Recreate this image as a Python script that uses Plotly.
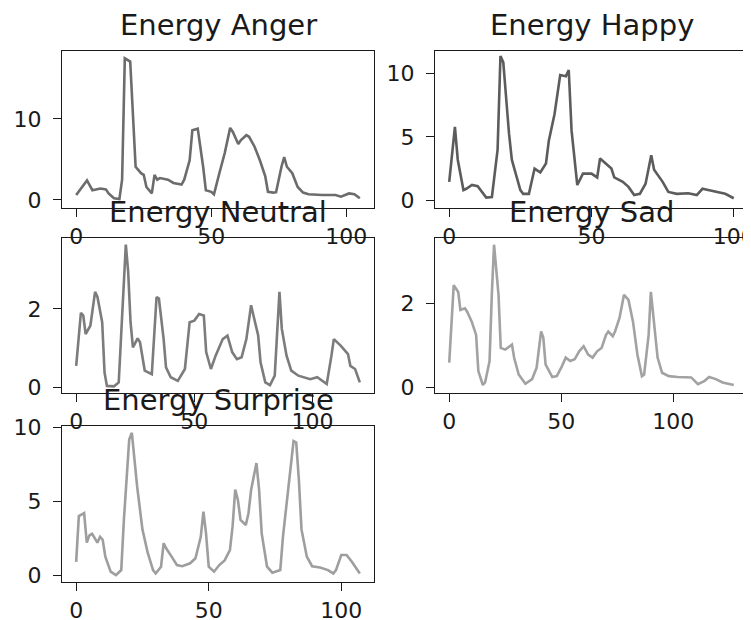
import plotly.graph_objects as go

# ---------------- data ----------------
titles = ["Energy Anger", "Energy Happy", "Energy Neutral", "Energy Sad", "Energy Surprise"]

anger_x = [0, 4, 6, 9, 11, 12, 14, 16, 17, 18, 20, 21, 22, 24, 25, 26, 28, 29, 30, 31,
           34, 36, 39, 40, 42, 43, 45, 47, 48, 50, 51, 53, 55, 57, 58, 60, 61, 63, 64, 66,
           68, 70, 71, 73, 74, 76, 77, 78, 80, 82, 84, 86, 91, 96, 98, 101, 103, 105]
anger_y = [0.6, 2.4, 1.2, 1.4, 1.3, 0.8, 0.2, 0.1, 2.5, 17.5, 17.1, 10.3, 4.1, 3.3, 3.1, 1.6, 0.8, 3.1, 2.5, 2.7,
           2.5, 2.1, 1.9, 2.5, 4.9, 8.6, 8.8, 4.1, 1.2, 1.0, 0.7, 3.3, 5.8, 8.9, 8.4, 6.9, 7.4, 8.0, 7.8, 6.6,
           4.9, 2.9, 1.0, 0.9, 0.95, 4.1, 5.3, 4.1, 3.3, 1.6, 0.9, 0.7, 0.6, 0.6, 0.4, 0.8, 0.7, 0.2]

happy_x = [0, 2, 3, 5, 6, 8, 10, 12, 13, 15, 17, 18, 19, 21, 22, 23, 25, 26, 28, 30,
           32, 34, 35, 37, 39, 41, 42, 43, 45, 47, 50, 52, 53, 55, 57, 58, 61, 63, 65, 67,
           69, 71, 72, 75, 77, 80, 84, 87, 89, 91, 94, 97, 100]
happy_y = [1.45, 5.8, 3.2, 0.8, 0.9, 1.2, 1.1, 0.5, 0.2, 0.25, 4.0, 11.4, 10.9, 5.3, 3.2, 2.4, 0.8, 0.5, 0.5, 2.5,
           2.2, 2.9, 4.7, 6.8, 9.9, 9.8, 10.3, 5.5, 1.2, 2.1, 2.1, 1.8, 3.3, 2.9, 2.5, 1.8, 1.45, 1.05, 0.4, 0.5,
           1.3, 3.55, 2.4, 1.45, 0.65, 0.5, 0.55, 0.4, 0.9, 0.8, 0.65, 0.5, 0.15]

neutral_x = [0, 2, 3, 4, 6, 8, 9, 11, 12, 13, 16, 18, 19, 21, 22, 23, 24, 26, 27, 28,
             29, 32, 34, 35, 37, 38, 40, 43, 46, 48, 50, 52, 54, 55, 57, 59, 62, 64, 66, 68,
             70, 72, 74, 75, 77, 78, 80, 82, 84, 86, 87, 89, 91, 94, 96, 99, 102, 104, 106, 108,
             109, 112, 115, 116, 118, 120]
neutral_y = [0.55, 1.9, 1.83, 1.36, 1.57, 2.43, 2.3, 1.66, 0.38, 0.04, 0.03, 0.13, 1.3, 3.63, 2.94, 1.66, 1.02, 1.25, 1.15, 0.81,
             0.43, 0.34, 2.3, 2.26, 1.23, 0.51, 0.26, 0.17, 0.47, 1.66, 1.7, 1.87, 1.83, 0.9, 0.47, 0.81, 1.23, 1.32, 0.9, 0.72,
             0.77, 1.23, 2.09, 1.83, 1.32, 0.64, 0.13, 0.06, 0.3, 2.43, 1.49, 0.81, 0.43, 0.3, 0.26, 0.21, 0.26, 0.17, 0.09, 0.81,
             1.23, 1.06, 0.85, 0.55, 0.47, 0.13]

sad_x = [0, 2, 4, 5, 7, 8, 10, 12, 13, 15, 16, 18, 19, 20, 22, 23, 25, 27, 28, 29,
         31, 34, 37, 39, 41, 42, 43, 46, 48, 50, 52, 54, 56, 58, 60, 62, 64, 66, 68, 70,
         71, 73, 74, 76, 78, 80, 82, 84, 86, 87, 89, 90, 92, 93, 95, 98, 102, 108, 111, 114,
         116, 119, 122, 127]
sad_y = [0.59, 2.43, 2.27, 1.84, 1.88, 1.8, 1.57, 1.25, 0.39, 0.06, 0.12, 0.63, 2.2, 3.39, 2.2, 0.94, 0.9, 0.98, 1.02, 0.7,
         0.31, 0.09, 0.2, 0.47, 1.33, 1.18, 0.55, 0.25, 0.27, 0.47, 0.71, 0.63, 0.67, 0.86, 0.98, 0.78, 0.71, 0.86, 0.94, 1.25,
         1.33, 1.22, 1.33, 1.65, 2.2, 2.08, 1.57, 0.78, 0.27, 0.31, 1.25, 2.27, 1.25, 0.71, 0.35, 0.27, 0.25, 0.24, 0.08, 0.16,
         0.25, 0.2, 0.12, 0.06]

surprise_x = [0, 1, 3, 4, 5, 6, 8, 9, 10, 11, 13, 15, 17, 18, 20, 21, 23, 25, 27, 29,
              30, 32, 33, 34, 36, 38, 40, 43, 45, 47, 48, 49, 50, 52, 54, 56, 58, 59, 60, 61,
              62, 64, 65, 66, 68, 69, 70, 72, 74, 77, 78, 80, 82, 83, 84, 85, 87, 89, 92, 95,
              97, 98, 100, 102, 104, 107]
surprise_y = [0.9, 4.0, 4.2, 2.2, 2.7, 2.8, 2.2, 2.6, 2.4, 1.25, 0.23, 0.0, 0.34, 3.75, 9.2, 9.66, 6.0, 3.1, 1.5, 0.34,
              0.11, 0.57, 2.16, 1.8, 1.25, 0.68, 0.6, 0.8, 1.14, 2.6, 4.3, 2.8, 0.57, 0.23, 0.68, 1.0, 1.7, 3.3, 5.8, 5.1,
              3.75, 3.4, 4.2, 5.8, 7.6, 5.8, 2.8, 0.57, 0.16, 0.34, 2.6, 5.8, 9.1, 9.0, 6.5, 3.1, 1.25, 0.6, 0.52, 0.34,
              0.11, 0.34, 1.36, 1.36, 0.9, 0.11]

x_ticks = [0, 50, 100]
y_ticks = [[0, 10], [0, 5, 10], [0, 2], [0, 2], [0, 5, 10]]

# ---------------- styling / layout ----------------
W, H = 751, 620
OFF = 8  # page body margin that shifts the figure inside the browser window
series = [(anger_x, anger_y), (happy_x, happy_y), (neutral_x, neutral_y),
          (sad_x, sad_y), (surprise_x, surprise_y)]
colors = ["#6c6c6c", "#5c5c5c", "#7c7c7c", "#a2a2a2", "#9e9e9e"]
# axes boxes in window pixels: (left, right, top, bottom)
boxes = [(62, 374, 51, 208), (435, 748, 51, 208),
         (62, 374, 238, 393), (435, 748, 238, 393),
         (62, 374, 426, 582)]
y_ranges = [[-1.0, 18.4], [-0.62, 11.8], [-0.14, 3.8], [-0.13, 3.55], [-0.47, 10.12]]

FONT = "DejaVu Sans"
fig = go.Figure()
annotations = []
for i, ((xs, ys), col, box, yr) in enumerate(zip(series, colors, boxes, y_ranges)):
    n = "" if i == 0 else str(i + 1)
    last = max(xs)
    fig.add_trace(go.Scatter(x=xs, y=ys, mode="lines",
                             line=dict(color=col, width=2.6),
                             xaxis="x" + n, yaxis="y" + n, showlegend=False,
                             hoverinfo="skip"))
    l, r, t, b = [v - OFF for v in box]
    axis_common = dict(showline=True, mirror=True, linecolor="#1a1a1a", linewidth=1.3,
                       ticks="outside", ticklen=8, tickwidth=1.3, tickcolor="#1a1a1a",
                       showgrid=False, zeroline=False, automargin=False,
                       tickfont=dict(family=FONT, size=22, color="#1a1a1a"))
    fig.layout["xaxis" + n] = dict(domain=[l / W, r / W],
                                   range=[-0.05 * last, 1.05 * last],
                                   tickmode="array", tickvals=x_ticks,
                                   anchor="y" + n, **axis_common)
    fig.layout["yaxis" + n] = dict(domain=[1 - b / H, 1 - t / H], range=yr,
                                   tickmode="array", tickvals=y_ticks[i],
                                   ticklabelstandoff=7,
                                   anchor="x" + n, **axis_common)
    annotations.append(dict(text=titles[i], xref="paper", yref="paper",
                            x=(l + r) / 2 / W, y=1 - (t - 7) / H,
                            xanchor="center", yanchor="bottom", showarrow=False,
                            font=dict(family=FONT, size=29, color="#1a1a1a")))

fig.update_layout(width=W, height=H, autosize=False,
                  margin=dict(l=0, r=0, t=0, b=0),
                  paper_bgcolor="white", plot_bgcolor="white",
                  annotations=annotations)
fig.write_html("out.html")
